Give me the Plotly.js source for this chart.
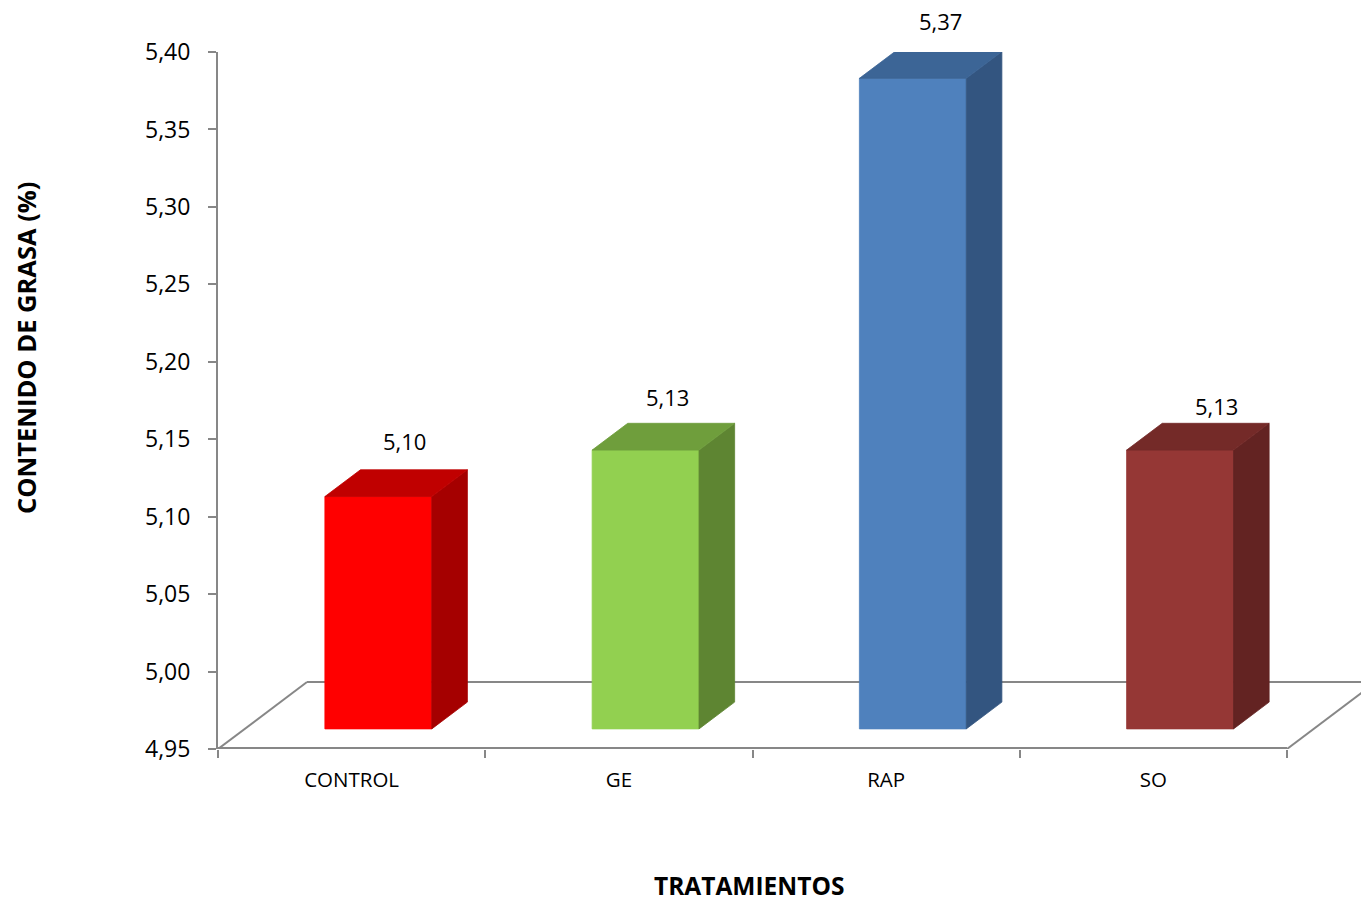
<!DOCTYPE html>
<html>
<head>
<meta charset="utf-8">
<script src="https://cdn.plot.ly/plotly-3.0.1.min.js"></script>
<style>
  html, body { margin: 0; padding: 0; background: #ffffff; }
  #chart { width: 1361px; height: 902px; }
</style>
</head>
<body>
<div id="chart"></div>
<script>
// ---- data ----
const tratamientos = ['CONTROL', 'GE', 'RAP', 'SO'];
const grasa = [5.10, 5.13, 5.37, 5.13];
const yTicks = [4.95, 5.00, 5.05, 5.10, 5.15, 5.20, 5.25, 5.30, 5.35, 5.40];

// ---- styles ----
const frontColors = ['#FF0000', '#92D050', '#4F81BD', '#953735'];
const topColors   = ['#C00000', '#6F9E3C', '#3C6596', '#742A28'];
const sideColors  = ['#A50000', '#5E8532', '#335580', '#632322'];
// label nudges in px relative to the back-top centre of each column (x right, y up)
const labelNudge = [[-9, 29], [-14, 26], [-8, 31], [1, 17]];

const AXIS_GREY = '#878787';
const FONT = 'Open Sans, Noto Sans, sans-serif';

// ---- geometry of the pseudo-3D frame ----
const W = 1361, H = 902;
const M = { l: 218, r: 0, t: 52, b: 153 };
const yMin = 4.95, yMax = 5.40;
const plotW = W - M.l - M.r;
const plotH = H - M.t - M.b;
const floorFrontPx = 1069;                       // length of the floor's front edge
const pxPerCat = floorFrontPx / tratamientos.length;
const xMin = -0.5;
const xMax = xMin + plotW / pxPerCat;
const pxPerVal = plotH / (yMax - yMin);
const depthPxX = 89, depthPxY = 67;              // floor depth in px
const depthX = depthPxX / pxPerCat;
const depthY = depthPxY / pxPerVal;
const barW = 0.4, d0 = 0.3, d1 = 0.7;            // column width and depth span

function proj(x, v, d) { return [x + d * depthX, v + d * depthY]; }

function poly(points, color) {
  const xs = [], ys = [];
  points.forEach(p => { xs.push(p[0]); ys.push(p[1]); });
  xs.push(points[0][0]); ys.push(points[0][1]);
  return {
    type: 'scatter', mode: 'lines', x: xs, y: ys,
    fill: 'toself', fillcolor: color,
    line: { color: color, width: 0.8 },
    hoverinfo: 'skip', showlegend: false
  };
}

const traces = [];

// floor outline
const nCat = tratamientos.length;
const f0 = proj(xMin, yMin, 0), f1 = proj(nCat - 0.5, yMin, 0);
const f2 = proj(nCat - 0.5, yMin, 1), f3 = proj(xMin, yMin, 1);
traces.push({
  type: 'scatter', mode: 'lines',
  x: [f1[0], f2[0], null, f3[0], f2[0] + 1, null, f0[0], f3[0]],
  y: [f1[1], f2[1], null, f3[1], f3[1], null, f0[1], f3[1]],
  line: { color: AXIS_GREY, width: 2 }, hoverinfo: 'skip', showlegend: false
});
traces.push({
  type: 'scatter', mode: 'lines',
  x: [f0[0], f1[0]], y: [f0[1], f1[1]],
  line: { color: AXIS_GREY, width: 4 }, hoverinfo: 'skip', showlegend: false
});

// columns: front, side and top faces
grasa.forEach((v, i) => {
  const xl = i - barW / 2, xr = i + barW / 2;
  traces.push(poly([proj(xl, yMin, d0), proj(xr, yMin, d0), proj(xr, v, d0), proj(xl, v, d0)], frontColors[i]));
  traces.push(poly([proj(xr, yMin, d0), proj(xr, yMin, d1), proj(xr, v, d1), proj(xr, v, d0)], sideColors[i]));
  traces.push(poly([proj(xl, v, d0), proj(xr, v, d0), proj(xr, v, d1), proj(xl, v, d1)], topColors[i]));
});

// value labels, anchored at each column's value and lifted to its back-top edge
const valueLabels = grasa.map((v, i) => ({
  text: v.toFixed(2).replace('.', ','),
  xref: 'x', yref: 'y',
  x: i + d1 * depthX, y: v,
  xshift: labelNudge[i][0],
  yshift: d1 * depthPxY + labelNudge[i][1],
  xanchor: 'center', yanchor: 'middle', showarrow: false,
  font: { family: FONT, size: 22, color: '#000000' }
}));

const catBounds = tratamientos.map((_, i) => i - 0.5).concat([nCat - 0.5]);

const layout = {
  width: W, height: H,
  margin: M,
  paper_bgcolor: '#ffffff', plot_bgcolor: '#ffffff',
  separators: ',.',
  showlegend: false,
  font: { family: FONT, color: '#000000' },
  xaxis: {
    range: [xMin, xMax],
    tickvals: tratamientos.map((_, i) => i),
    ticktext: tratamientos,
    ticks: '', showline: false, showgrid: false, zeroline: false,
    tickfont: { family: FONT, size: 20.5, color: '#000000' },
    ticklabelstandoff: 16,
    minor: { tickvals: catBounds, ticks: 'outside', ticklen: 8, tickwidth: 2, tickcolor: AXIS_GREY, showgrid: false },
    fixedrange: true
  },
  yaxis: {
    range: [yMin, yMax],
    tickvals: yTicks, tickformat: '.2f',
    ticks: 'outside', ticklen: 8, tickwidth: 2, tickcolor: AXIS_GREY,
    showline: true, linecolor: AXIS_GREY, linewidth: 2,
    showgrid: false, zeroline: false,
    tickfont: { family: FONT, size: 23, color: '#000000' },
    ticklabelstandoff: 13,
    fixedrange: true
  },
  annotations: valueLabels.concat([
    {
      text: '<b>TRATAMIENTOS</b>', xref: 'paper', yref: 'paper',
      x: (749 - M.l) / plotW, y: -(885 - (H - M.b)) / plotH,
      xanchor: 'center', yanchor: 'middle', showarrow: false,
      font: { family: FONT, size: 24.5, color: '#000000' }
    },
    {
      text: '<b>CONTENIDO DE GRASA (%)</b>', xref: 'paper', yref: 'paper',
      x: (26 - M.l) / plotW, y: ((H - M.b) - 348) / plotH,
      xanchor: 'center', yanchor: 'middle', textangle: -90, showarrow: false,
      font: { family: FONT, size: 25.5, color: '#000000' }
    }
  ])
};

Plotly.newPlot('chart', traces, layout, { displayModeBar: false, staticPlot: true });
</script>
</body>
</html>
